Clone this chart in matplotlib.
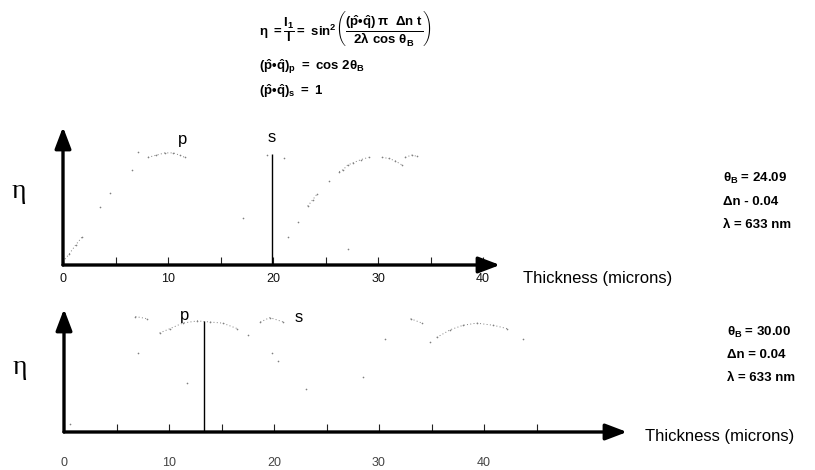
import numpy as np
import matplotlib
matplotlib.use("Agg")
import matplotlib.pyplot as plt

plt.rcParams['font.family'] = ['Liberation Sans', 'DejaVu Sans']
plt.rcParams['mathtext.fontset'] = 'custom'
plt.rcParams['mathtext.rm'] = 'Liberation Sans:bold'
plt.rcParams['mathtext.it'] = 'Liberation Sans:bold'
plt.rcParams['mathtext.bf'] = 'Liberation Sans:bold'

nan = np.nan
# ---- data (thickness in microns, efficiency eta) ----
# top panel (theta_B = 24.09): visible dots of the p and s curves, NaN = gap
top_t = [0.0, 0.6, 1.2, 1.8, nan, 3.5, nan, 4.5, nan, 6.6, nan, 7.1, nan,
         8.1, 8.9, 9.7, 10.5, 11.1, 11.6, nan, 17.1, nan, 19.4, nan, 21.0, nan,
         21.4, nan, 22.4, nan, 23.3, 23.8, 24.2, nan, 25.3, nan,
         26.3, 26.7, 27.1, 27.6, 28.4, 29.1, nan, 30.4, 31.0, 31.6, 32.3, nan,
         32.6, 33.2, 33.7, nan, 27.1]
top_eta = [0.03, 0.10, 0.18, 0.25, nan, 0.52, nan, 0.65, nan, 0.86, nan, 1.02, nan,
           0.97, 0.99, 1.01, 1.01, 0.99, 0.97, nan, 0.42, nan, 0.99, nan, 0.96, nan,
           0.25, nan, 0.39, nan, 0.53, 0.59, 0.64, nan, 0.76, nan,
           0.84, 0.86, 0.90, 0.92, 0.95, 0.97, nan, 0.97, 0.96, 0.94, 0.90, nan,
           0.97, 0.99, 0.98, nan, 0.14]
top_peak_t = 19.9      # s-polarisation peak marker
top_peak_eta = 1.0

# bottom panel (theta_B = 30.00)
bot_t = [0.6, nan, 6.8, 7.9, nan, 7.0, nan,
         9.1, 10.1, 11.3, 12.7, 13.9, 15.1, 16.5, nan, 17.5, nan, 11.7, nan,
         18.7, 19.6, 20.9, nan, 19.8, nan, 20.4, nan, 23.0, nan, 28.5, nan, 30.6, nan,
         33.0, 34.1, nan, 34.9, nan, 35.5, 36.8, 38.0, 39.3, 40.9, 42.2, nan, 43.7]
bot_eta = [0.07, nan, 1.05, 1.03, nan, 0.72, nan,
           0.90, 0.94, 0.99, 1.01, 1.00, 0.99, 0.94, nan, 0.88, nan, 0.45, nan,
           1.00, 1.04, 1.00, nan, 0.72, nan, 0.65, nan, 0.39, nan, 0.50, nan, 0.85, nan,
           1.03, 0.99, nan, 0.82, nan, 0.86, 0.93, 0.97, 0.99, 0.97, 0.94, nan, 0.85]
bot_peak_t = 13.3
bot_peak_eta = 1.01

major_ticks = [0, 10, 20, 30, 40]
top_minor = [5, 15, 25, 35, 40]
bot_minor = [5, 15, 25, 35, 45]

W, H = 815, 470
fig = plt.figure(figsize=(W / 100, H / 100), dpi=100)
fig.patch.set_facecolor('white')


def px_axes(x0, x1, y_base, y_top):
    return fig.add_axes([x0 / W, 1 - y_base / H, (x1 - x0) / W, (y_base - y_top) / H])


def style_axis(ax, xmax, ymax, pad, lab_color):
    ax.set_xlim(0, xmax)
    ax.set_ylim(0, ymax)
    for s in ax.spines.values():
        s.set_visible(False)
    ax.set_yticks([])
    ax.set_xticks(major_ticks)
    ax.set_xticklabels([str(v) for v in major_ticks])
    ax.tick_params(axis='x', direction='in', length=6, width=0.8, pad=pad,
                   labelsize=9, labelcolor=lab_color, color='#222')
    ax.patch.set_alpha(0)
    arr = dict(arrowstyle='-|>,head_length=1.0,head_width=0.38', lw=2.4,
               color='black', mutation_scale=13, shrinkA=0, shrinkB=0)
    ax.annotate('', xy=(xmax, 0), xytext=(0, 0), arrowprops=arr, annotation_clip=False)
    ax.annotate('', xy=(0, ymax), xytext=(0, 0), arrowprops=arr, annotation_clip=False)


dot_kw = dict(color='#808080', ls=(0, (1, 2.4)), lw=0.7, marker='o', ms=1.2, mew=0)

# ---- top panel ----
ax1 = px_axes(63, 500, 265, 127)
style_axis(ax1, (500 - 63) / 10.5, (265 - 127) / 111, 5.5, '#111')
ax1.plot(top_t, top_eta, **dot_kw)
ax1.vlines(top_peak_t, 0, top_peak_eta, color='black', lw=1.0)
ax1.text(11.4, 1.13, 'p', fontsize=12, ha='center', va='center')
ax1.text(19.9, 1.15, 's', fontsize=12, ha='center', va='center')

# ---- bottom panel ----
ax2 = px_axes(64, 627, 432, 309)
style_axis(ax2, (627 - 64) / 10.5, (432 - 309) / 110, 18, '#444')
ax2.plot(bot_t, bot_eta, **dot_kw)
ax2.vlines(bot_peak_t, 0, bot_peak_eta, color='black', lw=1.0)
ax2.text(11.5, 1.06, 'p', fontsize=12, ha='center', va='center')
ax2.text(22.4, 1.04, 's', fontsize=12, ha='center', va='center')

ax1.set_xticks(top_minor, minor=True)
ax2.set_xticks(bot_minor, minor=True)
for ax in (ax1, ax2):
    ax.tick_params(axis='x', which='minor', direction='in', length=6, width=0.8, color='#222')


def ftext(x, y, s, **kw):
    fig.text(x / W, 1 - y / H, s, **kw)


# axis labels
ftext(19, 192, 'η', fontsize=20, family='Liberation Serif', ha='center', va='center')
ftext(20, 368, 'η', fontsize=20, family='Liberation Serif', ha='center', va='center')
ftext(523, 278, 'Thickness (microns)', fontsize=12, ha='left', va='center')
ftext(645, 436, 'Thickness (microns)', fontsize=12, ha='left', va='center')

# parameter blocks
for x, y, s in [(723, 178, r'$\theta_B$ = 24.09'), (723, 202, 'Δn - 0.04'),
                (723, 225, 'λ = 633 nm'),
                (727, 332, r'$\theta_B$ = 30.00'), (727, 355, 'Δn = 0.04'),
                (727, 378, 'λ = 633 nm')]:
    ftext(x, y, s, fontsize=9.5, fontweight='bold', ha='left', va='center')

# equations
ftext(259, 29, r'$\eta\ = \dfrac{I_1}{I} = \ \sin^2\!\left(\dfrac{(\hat{p}•\hat{q})\,\pi\ \ \Delta n\ t}{2\lambda\ \cos\,\theta_B}\right)$',
      fontsize=9.5, ha='left', va='center')
ftext(259, 67, r'$(\hat{p}•\hat{q})_p\ =\ \cos\,2\theta_B$', fontsize=9.5, ha='left', va='center')
ftext(259, 91, r'$(\hat{p}•\hat{q})_s\ =\ 1$', fontsize=9.5, ha='left', va='center')

fig.savefig('out.png', dpi=100, facecolor='white')
